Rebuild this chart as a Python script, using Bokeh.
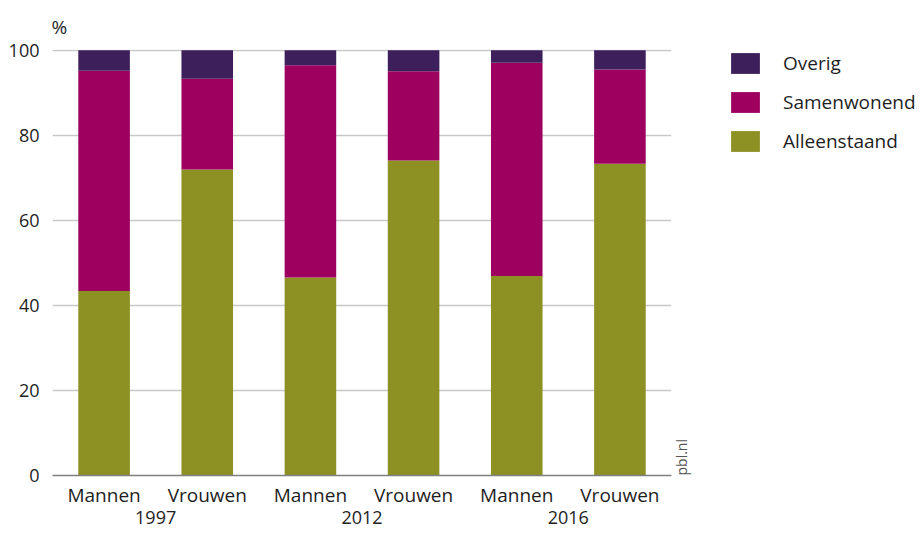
import math
from bokeh.plotting import figure
from bokeh.layouts import row
from bokeh.models import (ColumnDataSource, FactorRange, Range1d, FixedTicker,
                          Legend, LegendItem, LinearAxis)
from bokeh.embed import file_html
from bokeh.resources import INLINE

# ---- data ----
years = ["1997", "2012", "2016"]
sexes = ["Mannen", "Vrouwen"]
alleenstaand = [43.4, 72.0, 46.6, 74.1, 46.9, 73.3]
samenwonend = [51.8, 21.3, 49.9, 21.0, 50.2, 22.2]
overig = [4.8, 6.7, 3.5, 4.9, 2.9, 4.5]
series_names = ["Alleenstaand", "Samenwonend", "Overig"]
series_colors = ["#8D9023", "#9E0060", "#3D1F5B"]
y_ticks = [0, 20, 40, 60, 80, 100]

FONT = "Open Sans"
TXT = "#1e1e1e"

factors = [(y, s) for y in years for s in sexes]
source = ColumnDataSource(dict(x=factors, Alleenstaand=alleenstaand,
                               Samenwonend=samenwonend, Overig=overig))

W_MAIN = 703
p = figure(x_range=FactorRange(*factors, group_padding=0, factor_padding=0,
                               range_padding=0),
           y_range=Range1d(0, 100.2),
           width=W_MAIN, height=534, output_backend="svg", toolbar_location=None,
           min_border_left=52, min_border_right=30, min_border_top=49,
           min_border_bottom=59)
p.outline_line_color = None
p.background_fill_color = "white"
p.border_fill_color = "white"

renderers = p.vbar_stack(series_names, x="x", width=0.5, source=source,
                         color=series_colors, line_color=None)

# title "%"
p.title.text = "%"
p.title.align = "left"
p.title.offset = -1
p.title.text_font = FONT
p.title.text_font_size = "19px"
p.title.text_font_style = "normal"
p.title.text_color = TXT
p.title.standoff = 19

# grid
p.xgrid.grid_line_color = None
p.ygrid.ticker = FixedTicker(ticks=y_ticks)
p.ygrid.grid_line_color = "#c8c8c8"
p.ygrid.grid_line_width = 1.5

# y axis
p.yaxis.ticker = FixedTicker(ticks=y_ticks)
p.yaxis.axis_line_color = None
p.yaxis.major_tick_line_color = None
p.yaxis.minor_tick_line_color = None
p.yaxis.major_label_standoff = 7
p.yaxis.major_label_text_font = FONT
p.yaxis.major_label_text_font_size = "18px"
p.yaxis.major_label_text_color = TXT

# x axis
p.xaxis.axis_line_color = "#808080"
p.xaxis.axis_line_width = 1.5
p.xaxis.major_tick_line_color = None
p.xaxis.minor_tick_line_color = None
p.xaxis.major_label_standoff = 0
p.xaxis.major_label_text_font = FONT
p.xaxis.major_label_text_font_size = "19px"
p.xaxis.major_label_text_color = TXT
p.xaxis.group_text_font = FONT
p.xaxis.group_text_font_size = "18px"
p.xaxis.group_text_font_style = "normal"
p.xaxis.group_text_color = TXT
p.xaxis.separator_line_color = None

# source credit as label of an otherwise invisible right axis
credit = LinearAxis(ticker=FixedTicker(ticks=[]), axis_line_color=None,
                    major_tick_line_color=None, minor_tick_line_color=None,
                    axis_label="pbl.nl", axis_label_standoff=10,
                    axis_label_orientation=math.pi / 2,
                    axis_label_align="start",
                    axis_label_text_font=FONT, axis_label_text_font_size="14px",
                    axis_label_text_font_style="normal",
                    axis_label_text_color="#555555")
p.add_layout(credit, "right")

# ---- legend figure ----
W_LEG = 924 - W_MAIN
q = figure(width=W_LEG, height=534, output_backend="svg", toolbar_location=None,
           x_range=Range1d(0, 1), y_range=Range1d(0, 1),
           x_axis_type=None, y_axis_type=None,
           min_border_left=0, min_border_right=0, min_border_top=0,
           min_border_bottom=0)
q.outline_line_color = None
q.grid.grid_line_color = None
q.background_fill_color = "white"
q.border_fill_color = "white"

# zero-size proxy bars, only used to carry the legend swatches
leg_renderers = [q.vbar(x=[0], top=[0], width=0, color=c, line_color=None)
                 for c in series_colors]
items = [LegendItem(label=n, renderers=[r])
         for n, r in zip(series_names, leg_renderers)]
legend = Legend(items=list(reversed(items)), location=(24, 321),
                glyph_width=36, glyph_height=26, spacing=13, label_standoff=20,
                padding=0, margin=0, border_line_color=None,
                background_fill_alpha=0,
                label_text_font=FONT, label_text_font_size="19px",
                label_text_color=TXT)
q.add_layout(legend)

layout = row(p, q)
open("out.html", "w").write(file_html(layout, INLINE))
